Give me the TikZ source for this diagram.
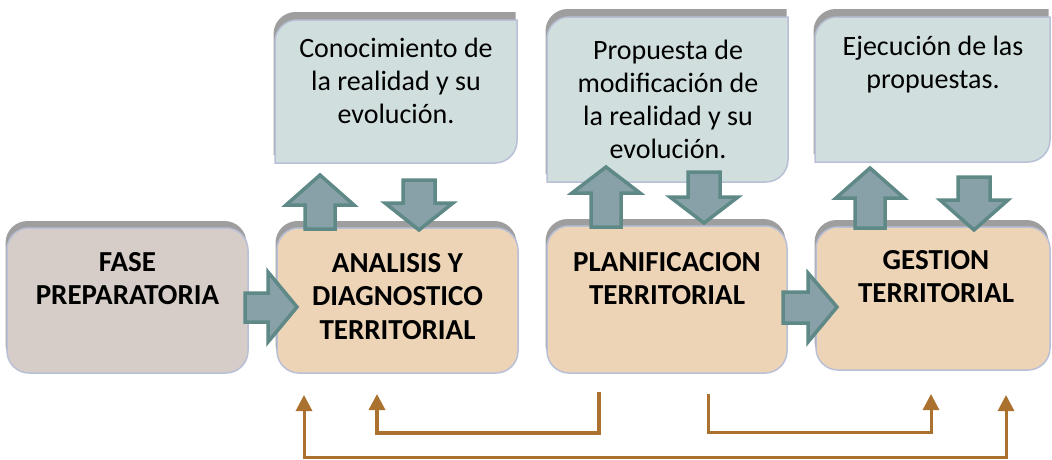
\documentclass[tikz,border=0pt]{standalone}
\usepackage{fontspec}
\setmainfont{Carlito}
\usepackage{xcolor}
\usepackage{tikz}
\usetikzlibrary{arrows.meta,shadows,calc,positioning}

\definecolor{prepfill}{RGB}{214,205,200}
\definecolor{stagefill}{RGB}{237,212,183}
\definecolor{notefill}{RGB}{208,222,222}
\definecolor{boxedge}{RGB}{185,192,214}
\definecolor{shadowgray}{RGB}{158,158,158}
\definecolor{arrowfill}{RGB}{136,160,168}
\definecolor{arrowedge}{RGB}{94,137,134}
\definecolor{loopbrown}{RGB}{171,113,47}

\begin{document}
\begin{tikzpicture}[x=1pt,y=-1pt,
  mainbox/.style={draw=boxedge, line width=1.5pt, rounded corners=22pt, minimum width=241pt, minimum height=145pt,
    drop shadow={shadow xshift=-1.5pt, shadow yshift=7pt, fill=shadowgray, opacity=1}},
  notebox/.style={draw=boxedge, line width=1.5pt, fill=notefill,
    drop shadow={shadow xshift=-1.5pt, shadow yshift=8pt, fill=shadowgray, opacity=1}},
  maintext/.style={font=\bfseries\fontsize{29}{33.5}\selectfont, align=center, inner sep=0pt, anchor=north},
  notetext/.style={font=\fontsize{28}{33}\selectfont, align=center, inner sep=0pt, anchor=north},
  blockarrow/.style={draw=arrowedge, line width=3.5pt, fill=arrowfill, line join=miter},
  loopline/.style={draw=loopbrown, line width=3pt, -{Triangle[width=16pt,length=16pt]}}]

\useasboundingbox (0,0) rectangle (1052,459);

% etapas
\node[mainbox, fill=prepfill] (prep) at (127.5,300.5) {};
\node[mainbox, fill=stagefill] (analisis) at (397.5,300.5) {};
\node[mainbox, fill=stagefill, minimum width=240pt, minimum height=147pt] (plan) at (667,299.5) {};
\node[mainbox, fill=stagefill, minimum width=234pt, minimum height=143pt] (gestion) at (933,298.5) {};

\node[maintext] (preptext) at (127.5,252) {FASE\\PREPARATORIA};
\node[maintext] (analisistext) at (397.5,253) {ANALISIS Y\\DIAGNOSTICO\\TERRITORIAL};
\node[maintext] (plantext) at (667,252) {PLANIFICACION\\TERRITORIAL};
\node[maintext] (gestiontext) at (936,250) {GESTION\\TERRITORIAL};

% resultados
\draw[notebox] (517,20) -- (297,20) .. controls (285,20) and (275,30) .. (275,42) -- (275,163) -- (495,163) .. controls (507,163) and (517,153) .. (517,141) -- cycle;
\draw[notebox] (788,17) -- (569,17) .. controls (557,17) and (547,27) .. (547,39) -- (547,182) -- (766,182) .. controls (778,182) and (788,172) .. (788,160) -- cycle;
\draw[notebox] (1050,17) -- (837,17) .. controls (825,17) and (815,27) .. (815,39) -- (815,162) -- (1028,162) .. controls (1040,162) and (1050,152) .. (1050,140) -- cycle;

\node[notetext] (note1) at (396,38) {Conocimiento de\\la realidad y su\\evolución.};
\node[notetext] (note2) at (668,40) {Propuesta de\\modificación de\\la realidad y su\\evolución.};
\node[notetext] (note3) at (933,36) {Ejecución de las\\propuestas.};

% flechas de bloque
\draw[blockarrow] (245,293) -- (268,293) -- (268,272) -- (297,307) -- (268,342) -- (268,322) -- (245,322) -- cycle;
\draw[blockarrow] (783,292) -- (808,292) -- (808,273) -- (837,307) -- (808,342) -- (808,323) -- (783,323) -- cycle;

\foreach \cx/\tip/\base/\bot in {320/175/205/229, 606/167/193/227, 870/168/198/228}
  \draw[blockarrow] (\cx-15,\bot) -- (\cx-15,\base) -- (\cx-34,\base) -- (\cx,\tip) -- (\cx+34,\base) -- (\cx+15,\base) -- (\cx+15,\bot) -- cycle;

\foreach \cx/\top/\base/\tip in {419/180/203/230, 704/172/197/223, 974/177/200/230}
  \draw[blockarrow] (\cx-16,\top) -- (\cx-16,\base) -- (\cx-34,\base) -- (\cx,\tip) -- (\cx+34,\base) -- (\cx+16,\base) -- (\cx+16,\top) -- cycle;

% retroalimentacion
\coordinate (outL) at (304,395);
\coordinate (outR) at (1006,395);
\coordinate (backA) at (599,392);
\coordinate (backB) at (377,394);
\coordinate (fwdA) at (708,394);
\coordinate (fwdB) at (931,394);

\draw[loopline, {Triangle[width=16pt,length=16pt]}-{Triangle[width=16pt,length=16pt]}] (outL) -- ++(0,62) -| (outR);
\draw[loopline, line width=3.5pt] (backA) -- ++(0,41) -| (backB);
\draw[loopline] (fwdA) -- ++(0,38) -| (fwdB);

\end{tikzpicture}
\end{document}
